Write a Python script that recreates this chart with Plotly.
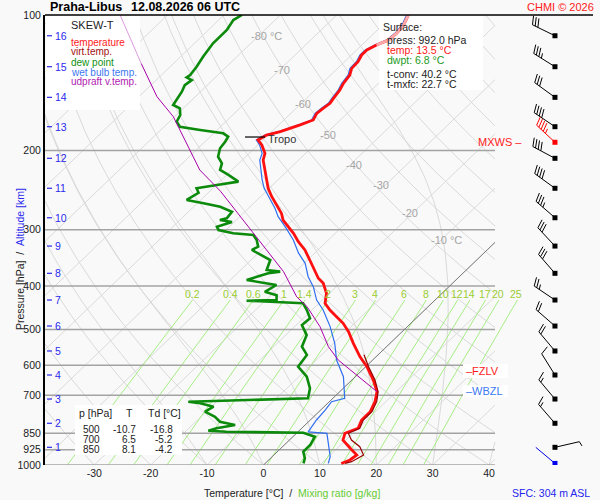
"""
Skew-T log-p sounding diagram, Praha-Libus 12.08.2026 06 UTC
"""

import numpy as np
import plotly.graph_objects as go

# Sounding data (pressure hPa, temperature degC)

temp_p = [100, 105.2, 109.8, 113.6, 116.6, 119.6, 122.7, 127.0, 131.4, 136.0,
          141.9, 146.8, 153.2, 157.1, 161.2, 165.4, 171.1, 173.5, 175.5, 178.6,
          181.6, 184.8, 189.6, 194.5, 203.0, 210.0, 221.0, 232.6, 242.7, 253.4,
          264.5, 276.0, 285.5, 295.4, 305.6, 319.0, 332.8, 350.3, 365.5, 384.7,
          394.7, 415.3, 437.2, 452.4, 468.1, 484.3, 505.6, 536.6, 574.3, 604.6,
          647.4, 687.2, 723.3, 761.3, 794.3, 828.6, 850.3, 880.2, 918.0, 950.1,
          974.7, 992]
temp_t = [-57.3, -56.3, -56.0, -56.2, -57.4, -58.2, -58.2, -57.6, -57.5, -56.6,
          -56.2, -55.6, -55.2, -54.9, -55.2, -55.4, -54.8, -55.5, -56.2, -57.4,
          -58.5, -60.3, -60.9, -59.3, -57.2, -56.3, -54.1, -52.0, -50.2, -48.0,
          -45.6, -43.2, -41.7, -39.5, -37.4, -35.0, -32.3, -29.6, -27.4, -24.7,
          -22.9, -20.5, -18.9, -16.8, -14.4, -12.0, -9.5, -6.5, -2.9, 0.2,
          3.8, 6.6, 8.1, 9.1, 9.1, 10.0, 8.6, 9.5, 12.3, 14.7,
          14.4, 13.5]

virt_p = [569, 604.6, 647.4, 687.2, 723.3, 761.3, 794.3, 828.6, 850.3, 880.2,
          910.7, 950.1, 983.2, 992]
virt_t = [-2.5, 0.5, 4.1, 6.8, 8.4, 9.4, 9.4, 10.3, 9.2, 11.0,
          13.7, 15.9, 15.0, 14.2]

dew_p = [100, 102.6, 108.0, 115.6, 123.8, 130.3, 136.0, 137.6, 139.5, 143.2,
         148.1, 154.5, 158.5, 161.2, 166.8, 172.6, 177.1, 180.1, 183.2, 186.4,
         191.3, 197.8, 206.5, 213.6, 221.0, 226.7, 234.6, 238.6, 242.7, 248.4,
         257.6, 262.0, 266.7, 273.6, 283.0, 285.5, 288.4, 295.4, 300.5, 305.6,
         308.3, 316.2, 327.2, 332.8, 344.4, 350.3, 368.6, 371.8, 375.0, 388.0,
         398.1, 412.2, 419.3, 429.9, 431.4, 437.2, 452.4, 472.1, 488.6, 514.4,
         545.9, 569.4, 604.6, 636.6, 675.4, 710.9, 723.3, 729.3, 742.0, 761.3,
         781.2, 801.5, 815.0, 828.6, 839.1, 843.7, 847.9, 865.4, 902.8, 934.2,
         966.3, 992]
dew_t = [-86.8, -87.4, -86.7, -86.7, -86.0, -85.3, -84.9, -85.1, -83.7, -84.0,
         -83.3, -82.7, -82.4, -80.6, -79.3, -78.7, -77.2, -73.0, -68.3, -66.8,
         -66.4, -66.1, -64.9, -63.0, -62.1, -59.7, -56.7, -59.9, -62.9, -61.7,
         -62.5, -58.9, -55.3, -52.3, -52.0, -52.9, -50.4, -52.2, -51.3, -48.1,
         -44.2, -42.7, -41.2, -41.7, -38.1, -36.6, -35.4, -32.7, -34.5, -37.1,
         -30.9, -31.7, -29.0, -28.1, -33.3, -22.8, -20.9, -18.8, -19.0, -16.3,
         -15.0, -12.6, -12.0, -8.6, -5.9, -4.4, -25.0, -22.6, -19.6, -20.2,
         -17.5, -15.7, -12.4, -15.1, -16.1, -12.7, 1.1, 3.9, 4.6, 4.6,
         6.1, 6.8]

wet_p = [100, 105.2, 109.8, 113.6, 116.6, 119.6, 122.7, 127.0, 131.4, 136.0,
         141.9, 146.8, 153.2, 157.1, 161.2, 165.4, 171.1, 173.5, 175.5, 178.6,
         181.6, 184.8, 189.6, 194.5, 203.0, 210.0, 221.0, 232.6, 242.7, 253.4,
         268.9, 280.6, 295.4, 316.2, 337.9, 356.3, 381.6, 401.9, 429.9, 452.4,
         492.6, 536.6, 584.4, 636.6, 687.2, 710.9, 723.3, 754.8, 794.3, 836.0,
         843.7, 850.3, 902.8, 958.4, 992]
wet_t = [-57.6, -56.6, -56.3, -56.5, -57.7, -58.5, -58.5, -57.9, -57.8, -56.9,
         -56.5, -55.9, -55.5, -55.2, -55.5, -55.7, -55.1, -55.8, -56.5, -57.7,
         -58.8, -60.6, -61.2, -59.7, -57.7, -56.9, -54.8, -52.8, -50.9, -48.6,
         -45.3, -43.2, -40.1, -36.2, -32.9, -29.8, -26.8, -24.0, -21.0, -18.0,
         -13.7, -9.8, -6.4, -2.1, 0.9, 2.1, 0.4, 0.8, 1.1, 1.8,
         1.8, 5.4, 7.8, 10.3, 11.2]

parcel_p = [100, 128.2, 151.9, 168.3, 199.5, 221.0, 246.4, 273.6, 305.6, 332.8,
            371.8, 423.1, 444.6, 492.6, 545.9, 584.4, 631.0, 687.2]
parcel_t = [-108.4, -95.7, -86.8, -80.2, -71.1, -65.7, -58.1, -51.5, -44.5, -39.1,
            -32.1, -25.1, -21.5, -15.5, -10.3, -6.1, -0.1, 6.6]

# Wind at each km of altitude (pressure of the km level, direction deg, speed kt)
alt_km = list(range(1, 17))
alt_p = [913.5, 807.8, 713.5, 631.0, 558.0, 491.1, 429.9, 375.0, 326.2, 282.2,
         242.7, 208.2, 177.1, 152.4, 130.3, 111.2]
wind_dir = [77, 319, 320, 328, 320, 311, 304, 319, 317, 311,
            306, 298, 304, 306, 302, 296]
wind_spd = [5, 15, 15, 10, 20, 20, 25, 30, 30, 35,
            40, 40, 40, 30, 35, 30]

mxws_p, mxws_dir, mxws_spd = 191.8, 313, 45
sfc_wind_dir, sfc_wind_spd = 310, 2

# Levels and surface info
tropo_p = 186.7
fzlv_p = 618.0
wbzl_p = 686.0
sfc_press = 992.0
sfc_temp = 13.5
sfc_dwpt = 6.8
t_conv = 40.2
t_mxfc = 22.7
sfc_height = 304

table_p = [500, 700, 850]
table_t = [-10.7, 6.5, 8.1]
table_td = [-16.8, -5.2, -4.2]

isobars = [200, 300, 400, 500, 600, 700, 850, 925, 1000]
p_ticks = [100, 200, 300, 400, 500, 600, 700, 850, 925, 1000]
t_ticks = [-30, -20, -10, 0, 10, 20, 30, 40]
mix_ratios = [0.2, 0.4, 0.6, 1, 1.4, 2, 3, 4, 6, 8, 10, 12, 14, 17, 20, 25]
mix_labels = ["0.2", "0.4", "0.6", "1", "1.4", "2", "3", "4", "6", "8",
              "10", "12", "14", "17", "20", "25"]

# Diagram geometry

SKEW = 82.98          # degC shift per decade of pressure
PX_PER_C = 5.64
X0_PX = 263.5         # pixel of 0 degC at 1000 hPa
X_LEFT = -38.74       # plot left edge
X_RIGHT = 58.78       # plot right edge
X_GRID = 41.05        # right edge of the diagram grid
BARB_X = 51.68        # wind barb column

FONT = "Arial, Liberation Sans, sans-serif"
GRID = "#dadada"
MIX_LINE = "#a6ee84"
MIX_TEXT = "#9acd32"


def skew_x(t, p):
    return np.asarray(t, float) + SKEW * np.log10(1000.0 / np.asarray(p, float))


def px(xp):
    return (xp - 45) / 550.0


def py(yp):
    return (465 - yp) / 450.0


def p_to_py(p):
    return 465 - 450 * np.log10(1000.0 / p)


def py_to_p(yp):
    return 1000.0 * 10 ** (-(465 - yp) / 450.0)


def clip_right(xs, ps, xmax=X_GRID):
    """Cut a polyline at x = xmax, returns lists ending with a None gap"""
    out_x, out_p = [], []
    for i in range(len(xs)):
        inside = xs[i] <= xmax
        if i > 0 and (xs[i - 1] <= xmax) != inside:
            f = (xmax - xs[i - 1]) / (xs[i] - xs[i - 1])
            lp = np.log10(ps[i - 1]) + f * (np.log10(ps[i]) - np.log10(ps[i - 1]))
            out_x.append(xmax)
            out_p.append(10 ** lp)
            if not inside:
                out_x.append(None)
                out_p.append(None)
        if inside:
            out_x.append(float(xs[i]))
            out_p.append(float(ps[i]))
    out_x.append(None)
    out_p.append(None)
    return out_x, out_p


def moist_adiabat(t0, ps):
    rd, cp, lv, eps = 287.04, 1005.7, 2.501e6, 0.622

    def rate(tk, p):
        es = 6.112 * np.exp(17.67 * (tk - 273.15) / (tk - 29.65))
        rs = eps * es / (p - es)
        return (rd * tk + lv * rs) / (p * (cp + lv * lv * rs * eps / (rd * tk * tk)))

    tk = t0 + 273.15
    out = [tk]
    for i in range(1, len(ps)):
        dp = ps[i] - ps[i - 1]
        k1 = rate(tk, ps[i - 1])
        k2 = rate(tk + k1 * dp, ps[i])
        tk = tk + 0.5 * (k1 + k2) * dp
        out.append(tk)
    return np.array(out) - 273.15


def mix_temp(w, p):
    e = w * np.asarray(p, float) / (622.0 + w)
    a = np.log(e / 6.112)
    return 243.5 * a / (17.67 - a)


fig = go.Figure()

# Background grid: isotherms, dry and moist adiabats

p_grid = np.logspace(3, 2, 91)
gx, gp = [], []
for t in range(-120, 50, 10):
    xs, ps = clip_right(skew_x(np.full_like(p_grid, t), p_grid), p_grid)
    gx += xs
    gp += ps
for th in range(-40, 190, 10):
    t = (th + 273.15) * (p_grid / 1000.0) ** 0.2857 - 273.15
    xs, ps = clip_right(skew_x(t, p_grid), p_grid)
    gx += xs
    gp += ps
for t0 in range(-10, 50, 10):
    t = moist_adiabat(t0, p_grid)
    xs, ps = clip_right(skew_x(t, p_grid), p_grid)
    gx += xs
    gp += ps

fig.add_trace(go.Scatter(x=gx, y=gp, mode="lines",
                         line=dict(color=GRID, width=1), hoverinfo="skip"))

# Mixing ratio lines
mp = np.logspace(3, np.log10(430), 20)
mx, myp = [], []
for w in mix_ratios:
    mx += list(skew_x(mix_temp(w, mp), mp)) + [None]
    myp += list(mp) + [None]
fig.add_trace(go.Scatter(x=mx, y=myp, mode="lines",
                         line=dict(color=MIX_LINE, width=1), hoverinfo="skip"))

# Isobars
ix, ip = [], []
for p in isobars:
    ix += [X_LEFT, X_GRID, None]
    ip += [p, p, None]
fig.add_trace(go.Scatter(x=ix, y=ip, mode="lines",
                         line=dict(color="#a3a3a3", width=1.5), hoverinfo="skip"))

# 0 degC isotherm
zx, zp = clip_right(skew_x(np.zeros_like(p_grid), p_grid), p_grid)
fig.add_trace(go.Scatter(x=zx, y=zp, mode="lines",
                         line=dict(color="#7a7a7a", width=1), hoverinfo="skip"))


# White text boxes: over the grid, under the sounding curves
def box(x0, y0, x1, y1):
    xa = (x0 - X0_PX) / PX_PER_C
    xb = (x1 - X0_PX) / PX_PER_C
    pa, pb = py_to_p(y0), py_to_p(y1)
    fig.add_trace(go.Scatter(x=[xa, xb, xb, xa, xa], y=[pa, pa, pb, pb, pa],
                             mode="lines", fill="toself", fillcolor="white",
                             line=dict(width=0, color="white"), hoverinfo="skip"))


box(46, 15.5, 140, 110)
box(379, 15.5, 483, 90)
box(75, 405, 182, 455)
box(463, p_to_py(fzlv_p) - 7, 508, p_to_py(fzlv_p) + 7)
box(463, p_to_py(wbzl_p) - 6, 508, p_to_py(wbzl_p) + 6)

# Sounding curves
fig.add_trace(go.Scatter(x=skew_x(wet_t, wet_p), y=wet_p, mode="lines",
                         line=dict(color="#2f6fef", width=1.2)))
fig.add_trace(go.Scatter(x=skew_x(dew_t, dew_p), y=dew_p, mode="lines",
                         line=dict(color="#0c8a0c", width=2.6)))
fig.add_trace(go.Scatter(x=skew_x(temp_t, temp_p), y=temp_p, mode="lines",
                         line=dict(color="#ff1010", width=2.8)))
fig.add_trace(go.Scatter(x=skew_x(virt_t, virt_p), y=virt_p, mode="lines",
                         line=dict(color="#990000", width=1.2)))
fig.add_trace(go.Scatter(x=skew_x(temp_t[:5], temp_p[:5]), y=temp_p[:5], mode="lines",
                         line=dict(color="#ffaaaa", width=2.8)))
fig.add_trace(go.Scatter(x=skew_x(parcel_t[:2], parcel_p[:2]), y=parcel_p[:2], mode="lines",
                         line=dict(color="#dd99dd", width=1)))
fig.add_trace(go.Scatter(x=skew_x(parcel_t[1:], parcel_p[1:]), y=parcel_p[1:], mode="lines",
                         line=dict(color="#aa00aa", width=1)))


# Wind barbs

def barb(p0, direction, speed, xs, ps):
    rad = np.deg2rad(direction)
    ux, uy = np.sin(rad), -np.cos(rad)
    fx, fy = -uy + 0.35 * ux, ux + 0.35 * uy
    n = np.hypot(fx, fy)
    fx, fy = fx / n, fy / n

    def seg(a, b):
        for dx, dy in (a, b):
            xs.append(BARB_X + dx / PX_PER_C)
            ps.append(p0 * 10 ** (dy / 450.0))
        xs.append(None)
        ps.append(None)

    length = 25
    seg((0, 0), (length * ux, length * uy))
    pos = length
    full = int(speed) // 10
    half = (int(speed) % 10) // 5
    for _ in range(full):
        bx, by = pos * ux, pos * uy
        seg((bx, by), (bx + 9 * fx, by + 9 * fy))
        pos -= 3
    if half:
        bx, by = pos * ux, pos * uy
        seg((bx, by), (bx + 5 * fx, by + 5 * fy))


bx, bp = [], []
for p, d, s in zip(alt_p, wind_dir, wind_spd):
    barb(p, d, s, bx, bp)
fig.add_trace(go.Scatter(x=bx, y=bp, mode="lines", line=dict(color="black", width=1)))
fig.add_trace(go.Scatter(x=[BARB_X] * len(alt_p), y=alt_p, mode="markers",
                         marker=dict(symbol="square", size=5, color="black")))

rx, rp = [], []
barb(mxws_p, mxws_dir, mxws_spd, rx, rp)
fig.add_trace(go.Scatter(x=rx, y=rp, mode="lines", line=dict(color="#ff0000", width=1)))
fig.add_trace(go.Scatter(x=[BARB_X], y=[mxws_p], mode="markers",
                         marker=dict(symbol="square", size=5, color="#ff0000")))

sx, sp = [], []
barb(sfc_press, sfc_wind_dir, sfc_wind_spd, sx, sp)
fig.add_trace(go.Scatter(x=sx, y=sp, mode="lines", line=dict(color="#0000ee", width=1)))
fig.add_trace(go.Scatter(x=[BARB_X], y=[sfc_press], mode="markers",
                         marker=dict(symbol="square", size=5, color="#0000ee")))


# Lines and texts in page coordinates

def hline(x0, x1, y, color="black", width=1):
    fig.add_shape(type="line", xref="paper", yref="paper",
                  x0=px(x0), x1=px(x1), y0=py(y), y1=py(y),
                  line=dict(color=color, width=width))


def label(text, xp, yp, color="#222222", size=11, anchor="left", bold=False):
    fig.add_annotation(text=f"<b>{text}</b>" if bold else text,
                       x=px(xp), y=py(yp), xref="paper", yref="paper",
                       xanchor=anchor, yanchor="middle", showarrow=False,
                       borderpad=0, font=dict(family=FONT, size=size, color=color))


hline(45, 593, 15, width=1.5)
hline(245, 265, p_to_py(tropo_p), width=1.2)

# Titles
label("Praha-Libus", 49, 7, color="black", size=12.5, bold=True)
label("12.08.2026 06 UTC", 130, 7, color="black", size=12.5, bold=True)
label("CHMI © 2026", 595, 7, color="#ff2020", size=11, anchor="right")
label(f"SFC: {sfc_height} m ASL", 591, 493, color="#2424ee", size=10.5, anchor="right")

label("Temperature [°C]\u00a0\u00a0/\u00a0\u00a0"
      "<span style='color:#66cc33'>Mixing ratio [g/kg]</span>",
      292, 493, size=10.5, anchor="center")
fig.add_annotation(text="Pressure [hPa]\u00a0\u00a0/\u00a0\u00a0"
                        "<span style='color:#2a2aee'>Altitude [km]</span>",
                   x=px(12), y=py(259), xref="paper", yref="paper", textangle=-90,
                   showarrow=False, font=dict(family=FONT, size=10.5, color="#222222"))

# Legend
label("SKEW-T", 70, 25, size=11)
for i, (txt, col) in enumerate([("temperature", "#ff1a1a"), ("virt.temp.", "#a01010"),
                                ("dew point", "#139013"), ("wet bulb temp.", "#3b78f0"),
                                ("udpraft v.temp.", "#b020b0")]):
    label(txt, 70, 42 + 10 * i, color=col, size=10)

# Surface info
label("Surface:", 382, 27, size=10.5)
label(f"press: {sfc_press:.1f} hPa", 386, 40, size=10.5)
label(f"temp: {sfc_temp:.1f} °C", 386, 50, color="#ff2020", size=10.5)
label(f"dwpt: {sfc_dwpt:.1f} °C", 386, 60, color="#1c9a1c", size=10.5)
label(f"t-conv: {t_conv:.1f} °C", 386, 74, size=10.5)
label(f"t-mxfc: {t_mxfc:.1f} °C", 386, 84, size=10.5)

# Standard level table
label("p [hPa]", 78, 413, size=10.5)
label("T", 129, 413, anchor="center", size=10.5)
label("Td [°C]", 147, 413, size=10.5)
for i, (p, t, td) in enumerate(zip(table_p, table_t, table_td)):
    yy = 429 + 10 * i
    label(str(p), 101, yy, anchor="right", size=10)
    label(f"{t:.1f}", 137, yy, anchor="right", size=10)
    label(f"{td:.1f}", 174, yy, anchor="right", size=10)

# Level markers
label("Tropo", 267, p_to_py(tropo_p) + 2, color="#333333")
label("\u2013FZLV", 465, p_to_py(fzlv_p), color="#ff1a1a")
label("\u2013WBZL", 465, p_to_py(wbzl_p), color="#3b78f0")
label("MXWS \u2013", 523, p_to_py(mxws_p), color="#ff1a1a", anchor="right")

# Isotherm labels
for t, yp, txt, shift in [(-80, 28, "-80 °C", 0), (-70, 62, "-70", -6),
                          (-60, 96, "-60", -6), (-50, 127, "-50", -5),
                          (-40, 157, "-40", -4), (-30, 185, "-30", -4),
                          (-20, 213, "-20", -3), (-10, 240, "-10 °C", 5)]:
    p = py_to_p(yp)
    fig.add_annotation(text=txt, x=float(skew_x(t, p)) + shift / PX_PER_C, y=py(yp),
                       xref="x", yref="paper", showarrow=False,
                       font=dict(family=FONT, size=11, color="#a5a5a5"))

# Mixing ratio labels
p_lab = 417.0
for w, txt in zip(mix_ratios, mix_labels):
    fig.add_annotation(text=txt, x=float(skew_x(mix_temp(w, p_lab), p_lab)) - 4.5 / PX_PER_C,
                       y=py(p_to_py(p_lab)), xref="x", yref="paper", showarrow=False,
                       font=dict(family=FONT, size=10.5, color=MIX_TEXT))

# Altitude scale
for km, p in zip(alt_km, alt_p):
    yp = p_to_py(p)
    hline(47, 52, yp, color="#2a2aee", width=1.2)
    label(str(km), 54, yp, color="#2a2aee", size=10.5)

fig.update_layout(
    width=600,
    height=500,
    margin=dict(l=45, r=5, t=15, b=35),
    paper_bgcolor="#f9f9f9",
    plot_bgcolor="#f9f9f9",
    showlegend=False,
    hovermode=False,
    template="none",
)

fig.update_xaxes(range=[X_LEFT, X_RIGHT], tickvals=t_ticks,
                 ticktext=[str(t) for t in t_ticks], showgrid=False,
                 zeroline=False, showline=False, ticks="",
                 tickfont=dict(family=FONT, size=10.5, color="#222222"))
fig.update_yaxes(type="log", range=[3, 2], tickvals=p_ticks,
                 ticktext=[str(p) for p in p_ticks], showgrid=False,
                 zeroline=False, showline=True, linecolor="black", linewidth=2,
                 ticks="", tickfont=dict(family=FONT, size=10.5, color="#222222"))

# the page body has a default 8px margin; remove it so the chart fills the window
fig.write_html("out.html", config={"displayModeBar": False},
               post_script="document.body.style.margin = '0';")
